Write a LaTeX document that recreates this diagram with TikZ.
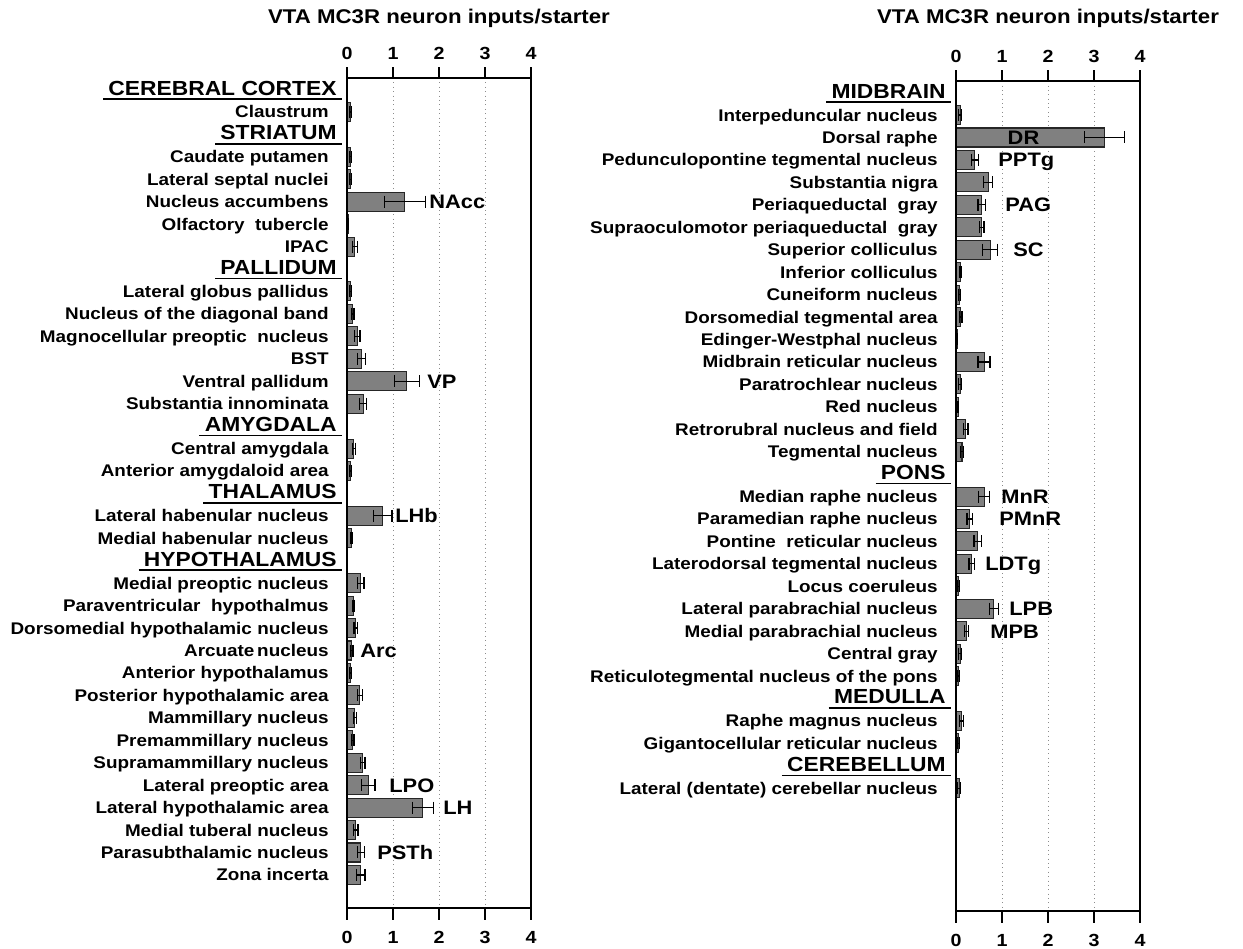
\documentclass[tikz,border=0pt]{standalone}
\usepackage{fontspec}
\setmainfont{Liberation Sans}[FakeStretch=1.12]
\usetikzlibrary{positioning, calc}

\begin{document}
\begin{tikzpicture}[
    x=0.02cm, y=-0.02cm,
    item/.style={anchor=base east, inner sep=0pt, font=\fontsize{9.6}{11}\selectfont\bfseries},
    region/.style={anchor=base east, inner sep=0pt, font=\fontsize{11.6}{13}\selectfont\bfseries},
    tag/.style={anchor=base west, inner sep=0pt, font=\fontsize{11.1}{13}\selectfont\bfseries},
    ticklabel/.style={inner sep=0pt, font=\fontsize{10}{12}\selectfont\bfseries},
    charttitle/.style={inner sep=0pt, font=\fontsize{11.3}{13}\selectfont\bfseries},
    axis/.style={line width=1.5pt},
    gridline/.style={dotted, black!45, line width=0.5pt},
    bar/.style={fill=black!50, draw=black!85, line width=0.6pt},
    errbar/.style={line width=0.7pt},
    underline/.style={line width=0.9pt}
  ]
    \useasboundingbox (0,0) rectangle (1243,948);

    % Titles above both charts
    \node[charttitle] (titleL) at (439,18) {VTA MC3R neuron inputs/starter};
    \node[charttitle] (titleR) at (1048,18) {VTA MC3R neuron inputs/starter};

    % Left chart: forebrain
    \begin{scope}[shift={(347,89.5)}]
      \foreach \tk in {1,2,3}
        \draw[gridline] (46*\tk,-11.5) -- (46*\tk,818.5);

      % Region headers
      \foreach \row/\hd in {0/CEREBRAL CORTEX, 2/STRIATUM, 8/PALLIDUM, 15/AMYGDALA, 18/THALAMUS, 21/HYPOTHALAMUS} {
        \node[region] (hdL\row) at (-10,22.44*\row+5.5) {\hd};
        \draw[underline] ($(hdL\row.base west)+(-5,4)$) -- (-5,22.44*\row+9.5);
      }

      % Bars with error bars
      \foreach \row/\lab/\val/\err in {
          1/Claustrum/0.07/0.02, 3/Caudate putamen/0.07/0.02, 4/Lateral septal nuclei/0.07/0.02,
          5/Nucleus accumbens/1.26/0.44, 6/Olfactory~ tubercle/0.03/0.01, 7/IPAC/0.17/0.05,
          9/Lateral globus pallidus/0.08/0.02, 10/Nucleus of the diagonal band/0.12/0.03,
          11/Magnocellular preoptic~ nucleus/0.22/0.06, 12/BST/0.32/0.09,
          13/Ventral pallidum/1.30/0.27, 14/Substantia innominata/0.35/0.08,
          16/Central amygdala/0.15/0.03, 17/Anterior amygdaloid area/0.08/0.02,
          19/Lateral habenular nucleus/0.78/0.20, 20/Medial habenular nucleus/0.09/0.02,
          22/Medial preoptic nucleus/0.30/0.07, 23/Paraventricular~ hypothalmus/0.15/0.02,
          24/Dorsomedial hypothalamic nucleus/0.19/0.04, 25/Arcuate\,nucleus/0.10/0.03,
          26/Anterior hypothalamus/0.08/0.02, 27/Posterior hypothalamic area/0.28/0.06,
          28/Mammillary nucleus/0.17/0.03, 29/Premammillary nucleus/0.12/0.03,
          30/Supramammillary nucleus/0.34/0.05, 31/Lateral preoptic area/0.46/0.15,
          32/Lateral hypothalamic area/1.65/0.23, 33/Medial tuberal nucleus/0.19/0.05,
          34/Parasubthalamic nucleus/0.30/0.08, 35/Zona incerta/0.30/0.09} {
        \node[item] (itL\row) at (-18,22.44*\row+6) {\lab};
        \draw[bar] (0,22.44*\row-9.5) rectangle (46*\val,22.44*\row+9.5);
        \draw[errbar] (46*\val-46*\err,22.44*\row) -- (46*\val+46*\err,22.44*\row);
        \draw[errbar] (46*\val-46*\err,22.44*\row-6) -- ++(0,12);
        \draw[errbar] (46*\val+46*\err,22.44*\row-6) -- ++(0,12);
      }

      % Axis frame and ticks
      \draw[axis] (0,-11.5) rectangle (184,818.5);
      \foreach \tk in {0,...,4} {
        \draw[axis] (46*\tk,-11.5) -- (46*\tk,-22.5);
        \draw[axis] (46*\tk,818.5) -- (46*\tk,830.5);
        \node[ticklabel] (topL\tk) at (46*\tk,-36.5) {\tk};
        \node[ticklabel] (botL\tk) at (46*\tk,847.5) {\tk};
      }

      % Abbreviations next to bars
      \foreach \row/\tg/\tx in {5/NAcc/82, 13/VP/80, 19/LHb/48, 25/Arc/13, 31/LPO/42, 32/LH/96, 34/PSTh/30}
        \node[tag] (tg\tg) at (\tx,22.44*\row+7) {\tg};
    \end{scope}

    % Right chart: brainstem
    \begin{scope}[shift={(956,92.6)}]
      \foreach \tk in {1,2,3}
        \draw[gridline] (46*\tk,-11.5) -- (46*\tk,818.5);

      % Region headers
      \foreach \row/\hd in {0/MIDBRAIN, 17/PONS, 27/MEDULLA, 30/CEREBELLUM} {
        \node[region] (hdR\row) at (-10,22.44*\row+5.5) {\hd};
        \draw[underline] ($(hdR\row.base west)+(-5,4)$) -- (-5,22.44*\row+9.5);
      }

      % Bars with error bars
      \foreach \row/\lab/\val/\err in {
          1/Interpeduncular nucleus/0.09/0.03, 2/Dorsal raphe/3.23/0.43,
          3/Pedunculopontine tegmental nucleus/0.41/0.08, 4/Substantia nigra/0.70/0.10,
          5/Periaqueductal~ gray/0.56/0.08, 6/Supraoculomotor periaqueductal~ gray/0.56/0.05,
          7/Superior colliculus/0.74/0.17, 8/Inferior colliculus/0.09/0.02,
          9/Cuneiform nucleus/0.07/0.02, 10/Dorsomedial tegmental area/0.10/0.03,
          11/Edinger-Westphal nucleus/0.03/0.01, 12/Midbrain reticular nucleus/0.61/0.13,
          13/Paratrochlear nucleus/0.09/0.03, 14/Red nucleus/0.05/0.01,
          15/Retrorubral nucleus and field/0.21/0.05, 16/Tegmental nucleus/0.13/0.04,
          18/Median raphe nucleus/0.61/0.12, 19/Paramedian raphe nucleus/0.30/0.06,
          20/Pontine~ reticular nucleus/0.47/0.08, 21/Laterodorsal tegmental nucleus/0.34/0.06,
          22/Locus coeruleus/0.06/0.02, 23/Lateral parabrachial nucleus/0.82/0.10,
          24/Medial parabrachial nucleus/0.23/0.04, 25/Central gray/0.09/0.03,
          26/Reticulotegmental nucleus of the pons/0.06/0.02,
          28/Raphe magnus nucleus/0.12/0.04, 29/Gigantocellular reticular nucleus/0.05/0.02,
          31/{Lateral (dentate) cerebellar nucleus}/0.07/0.03} {
        \node[item] (itR\row) at (-18,22.44*\row+6) {\lab};
        \draw[bar] (0,22.44*\row-9.5) rectangle (46*\val,22.44*\row+9.5);
        \draw[errbar] (46*\val-46*\err,22.44*\row) -- (46*\val+46*\err,22.44*\row);
        \draw[errbar] (46*\val-46*\err,22.44*\row-6) -- ++(0,12);
        \draw[errbar] (46*\val+46*\err,22.44*\row-6) -- ++(0,12);
      }

      % Axis frame and ticks
      \draw[axis] (0,-11.5) rectangle (184,818.5);
      \foreach \tk in {0,...,4} {
        \draw[axis] (46*\tk,-11.5) -- (46*\tk,-22.5);
        \draw[axis] (46*\tk,818.5) -- (46*\tk,830.5);
        \node[ticklabel] (topR\tk) at (46*\tk,-36.5) {\tk};
        \node[ticklabel] (botR\tk) at (46*\tk,847.5) {\tk};
      }

      % Abbreviations next to bars
      \node[tag, anchor=base] (tgDR) at (67.5,22.44*2+7) {DR};
      \foreach \row/\tg/\tx in {3/PPTg/42, 5/PAG/49, 7/SC/57, 18/MnR/45, 19/PMnR/43, 21/LDTg/29, 23/LPB/53, 24/MPB/34}
        \node[tag] (tg\tg) at (\tx,22.44*\row+7) {\tg};
    \end{scope}
\end{tikzpicture}
\end{document}
